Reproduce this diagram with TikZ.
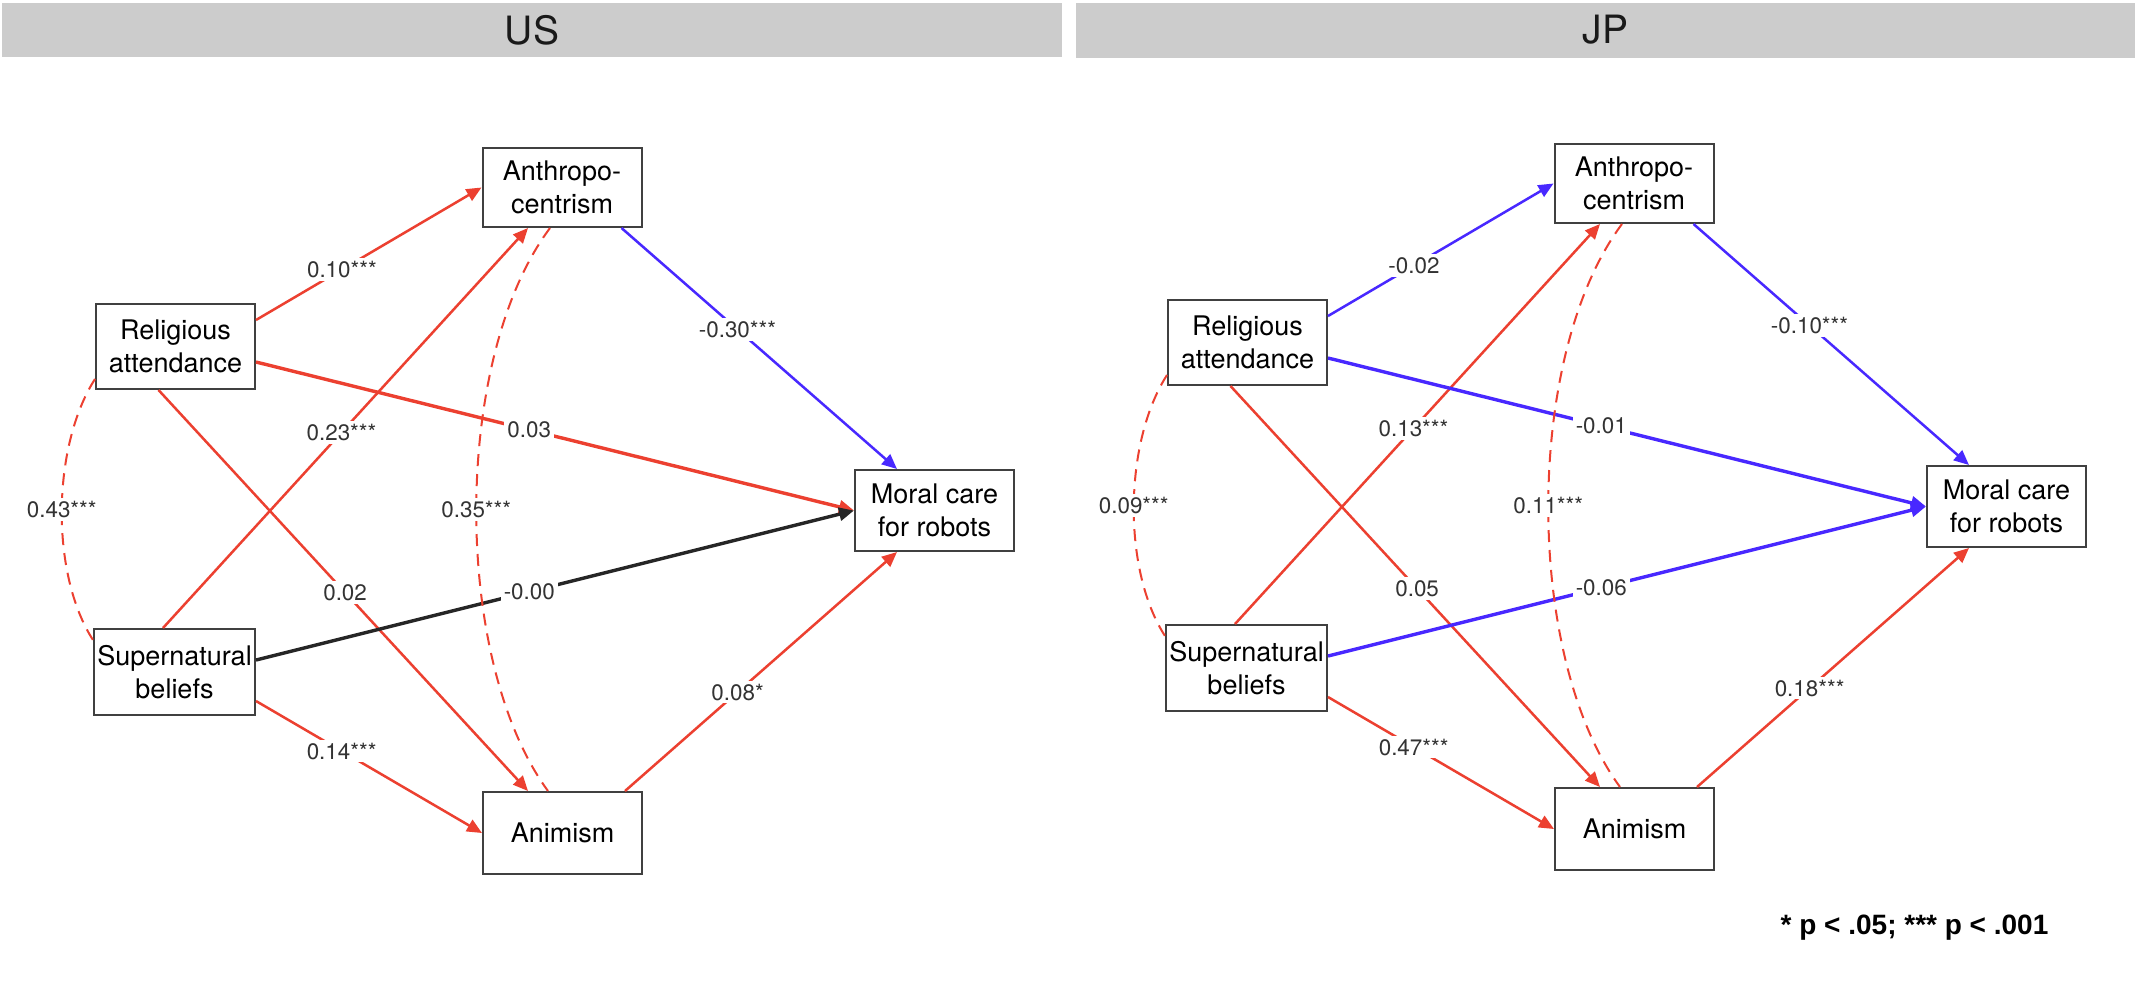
\documentclass[tikz,border=0pt]{standalone}
\usepackage{fontspec}
\setmainfont{TeX Gyre Heros}
\newfontfamily\notefont{Liberation Sans}
\usetikzlibrary{arrows.meta,calc}
\definecolor{pr}{RGB}{236,64,48}
\definecolor{pb}{RGB}{72,40,255}
\definecolor{hdr}{RGB}{204,204,204}
\definecolor{lbl}{RGB}{51,51,51}
\definecolor{bx}{RGB}{64,64,64}
\pgfdeclarelayer{bg}
\pgfsetlayers{bg,main}
\begin{document}
\begin{tikzpicture}[x=0.5pt,y=-0.5pt,
  var/.style={draw=bx, line width=1pt, fill=white, minimum width=79.5pt, inner sep=0pt, align=center, font=\fontsize{13.5}{16.5}\selectfont},
  eff/.style={line width=1.25pt, -{Triangle[length=7.5pt,width=6.5pt]}},
  efflong/.style={eff, line width=1.7pt},
  cov/.style={pr, line width=1pt, dash pattern=on 6pt off 4pt},
  lab/.style={fill=white, text=lbl, inner sep=1.5pt, font=\fontsize{11.2}{13}\selectfont},
  ttl/.style={text=black!90, font=\fontsize{19.5}{22}\selectfont},
  blob/.style={fill=black},
]
\useasboundingbox (0,0) rectangle (2142,998);
\fill[white] (0,0) rectangle (2142,998);

% headers
\fill[hdr] (2,3) rectangle (1062,57);
\fill[hdr] (1076,3) rectangle (2135,58);
\node[ttl] (tUS) at (532,30) {US};
\node[ttl] (tJP) at (1605.5,30) {JP};

% ---------------- US ----------------
\node[var, minimum height=39.5pt] (uA) at (562,187.5) {Anthropo-\\centrism};
\node[var, minimum height=42.5pt] (uR) at (175.5,346.5) {Religious\\attendance};
\node[var, minimum height=40.5pt] (uM) at (934.5,510.5) {Moral care\\for robots};
\node[var, minimum height=43pt, minimum width=80.5pt] (uS) at (174.5,672) {Supernatural\\beliefs};
\node[var, minimum height=41pt] (uN) at (562.5,833) {Animism};

\begin{pgfonlayer}{bg}
\fill[blob] ($(uA.north)+(-31,0)$) ellipse [x radius=11, y radius=5];
\fill[blob] ($(uA.south)+(-32,0)$) ellipse [x radius=11, y radius=5];
\fill[blob] ($(uR.south)+(-13.5,0)$) ellipse [x radius=11, y radius=5];
\fill[blob] ($(uM.north)+(-36,0)$) ellipse [x radius=10, y radius=5];
\fill[blob] ($(uM.south)+(-34,0)$) ellipse [x radius=10, y radius=5];
\fill[blob] ($(uN.south)+(-32,0)$) ellipse [x radius=11, y radius=5];
\end{pgfonlayer}

\draw[eff,pr] ($(uR.east)+(0,-26.5)$) -- node[lab,pos=0.381]{0.10***} (uA.west);
\draw[eff,pr] ($(uS.north)+(-11.5,0)$) -- node[lab,pos=0.489]{0.23***} ($(uA.south)+(-34,0)$);
\draw[efflong,pr] ($(uR.east)+(0,15.5)$) -- node[lab,pos=0.457]{0.03} (uM.west);
\draw[eff,pr] ($(uR.south)+(-17,0)$) -- node[lab,pos=0.505]{0.02} ($(uN.north)+(-34.5,0)$);
\draw[efflong,black!85] ($(uS.east)+(0,-12)$) -- node[lab,pos=0.457]{-0.00} (uM.west);
\draw[eff,pr] ($(uS.east)+(0,29)$) -- node[lab,pos=0.379]{0.14***} (uN.west);
\draw[eff,pb] ($(uA.south)+(59.5,0)$) -- node[lab,pos=0.421]{-0.30***} ($(uM.north)+(-37.5,0)$);
\draw[eff,pr] ($(uN.north)+(62.5,0)$) -- node[lab,pos=0.414]{0.08*} ($(uM.south)+(-37.5,0)$);
\draw[cov] ($(uR.south west)+(0,-11)$) .. controls +(-43,67) and +(-43,-67) .. node[lab]{0.43***} ($(uS.north west)+(0,12)$);
\draw[cov] ($(uA.south)+(-12,0)$) .. controls +(-98,131) and +(-96,-131) .. node[lab]{0.35***} ($(uN.north)+(-14.5,0)$);

% ---------------- JP ----------------
\begin{scope}[shift={(1072,-4)}]
\node[var, minimum height=39.5pt] (jA) at (562,187.5) {Anthropo-\\centrism};
\node[var, minimum height=42.5pt] (jR) at (175.5,346.5) {Religious\\attendance};
\node[var, minimum height=40.5pt] (jM) at (934.5,510.5) {Moral care\\for robots};
\node[var, minimum height=43pt, minimum width=80.5pt] (jS) at (174.5,672) {Supernatural\\beliefs};
\node[var, minimum height=41pt] (jN) at (562.5,833) {Animism};
\end{scope}

\begin{pgfonlayer}{bg}
\fill[blob] ($(jA.south)+(-30,0)$) ellipse [x radius=11, y radius=5];
\fill[blob] ($(jR.south)+(-13.5,0)$) ellipse [x radius=11, y radius=5];
\fill[blob] ($(jM.north)+(-36,0)$) ellipse [x radius=10, y radius=5];
\fill[blob] ($(jM.south)+(-34,0)$) ellipse [x radius=10, y radius=5];
\fill[blob] ($(jN.south)+(-32,0)$) ellipse [x radius=11, y radius=4];
\end{pgfonlayer}

\draw[eff,pb] ($(jR.east)+(0,-26.5)$) -- node[lab,pos=0.381]{-0.02} (jA.west);
\draw[eff,pr] ($(jS.north)+(-11.5,0)$) -- node[lab,pos=0.489]{0.13***} ($(jA.south)+(-34,0)$);
\draw[efflong,pb] ($(jR.east)+(0,15.5)$) -- node[lab,pos=0.457]{-0.01} (jM.west);
\draw[eff,pr] ($(jR.south)+(-17,0)$) -- node[lab,pos=0.505]{0.05} ($(jN.north)+(-34.5,0)$);
\draw[efflong,pb] ($(jS.east)+(0,-12)$) -- node[lab,pos=0.457]{-0.06} (jM.west);
\draw[eff,pr] ($(jS.east)+(0,29)$) -- node[lab,pos=0.379]{0.47***} (jN.west);
\draw[eff,pb] ($(jA.south)+(59.5,0)$) -- node[lab,pos=0.421]{-0.10***} ($(jM.north)+(-37.5,0)$);
\draw[eff,pr] ($(jN.north)+(62.5,0)$) -- node[lab,pos=0.414]{0.18***} ($(jM.south)+(-37.5,0)$);
\draw[cov] ($(jR.south west)+(0,-11)$) .. controls +(-43,67) and +(-43,-67) .. node[lab]{0.09***} ($(jS.north west)+(0,12)$);
\draw[cov] ($(jA.south)+(-12,0)$) .. controls +(-98,131) and +(-96,-131) .. node[lab]{0.11***} ($(jN.north)+(-14.5,0)$);

% footnote
\node[font=\notefont\bfseries\fontsize{14}{16}\selectfont] (note) at (1914.5,928) {* p < .05; *** p < .001};
\end{tikzpicture}
\end{document}
